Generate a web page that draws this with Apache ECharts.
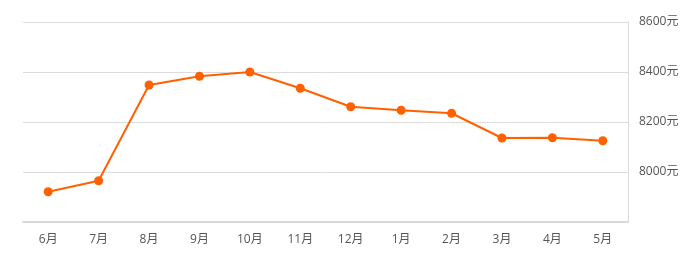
<!DOCTYPE html>
<html><head><meta charset="utf-8">
<script src="https://cdn.jsdelivr.net/npm/echarts@6/dist/echarts.min.js"></script>
<style>html,body{margin:0;padding:0;background:#fff}#c{width:696px;height:262px}</style>
</head><body><div id="c"></div>
<script>
const categories = ['6月','7月','8月','9月','10月','11月','12月','1月','2月','3月','4月','5月'];
const prices = [7921, 7965, 8348, 8383, 8400, 8335, 8261, 8247, 8235, 8136, 8137, 8125];
const yMin = 7800, yMax = 8600, yStep = 200;

const chart = echarts.init(document.getElementById('c'), null, {renderer: 'canvas'});
chart.setOption({
  animation: false,
  grid: {left: 23, right: 68, top: 22, bottom: 40},
  xAxis: {
    type: 'category',
    data: categories,
    boundaryGap: true,
    axisLine: {lineStyle: {color: '#d9d9d9', width: 2}},
    axisTick: {alignWithLabel: true, length: 4, lineStyle: {color: '#d9d9d9'}},
    axisLabel: {color: '#555', fontSize: 12, margin: 12, fontFamily: 'Open Sans, Noto Sans CJK SC, sans-serif'}
  },
  yAxis: {
    type: 'value',
    position: 'right',
    min: yMin, max: yMax, interval: yStep,
    axisLine: {show: true, lineStyle: {color: '#d9d9d9', width: 1}},
    axisTick: {show: false},
    splitLine: {lineStyle: {color: '#dcdcdc'}},
    axisLabel: {
      color: '#555', fontSize: 12, margin: 11,
      fontFamily: 'Open Sans, Noto Sans CJK SC, sans-serif',
      formatter: v => v === yMin ? '' : v + '元'
    }
  },
  series: [{
    type: 'line',
    data: prices,
    symbol: 'circle',
    symbolSize: 9,
    itemStyle: {color: '#ff6000'},
    lineStyle: {color: '#ff6000', width: 2}
  }]
});
</script></body></html>
